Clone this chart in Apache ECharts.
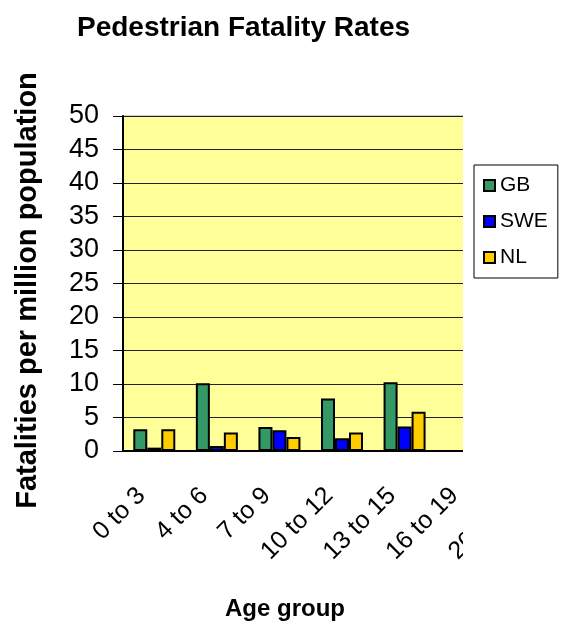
<!DOCTYPE html>
<html>
<head>
<meta charset="utf-8">
<title>Pedestrian Fatality Rates</title>
<script src="https://cdn.jsdelivr.net/npm/echarts@6/dist/echarts.min.js"></script>
<style>
    html, body { margin: 0; padding: 0; background: #fff; }
    #chart { width: 561px; height: 628px; }
</style>
</head>
<body>
<div id="chart"></div>
<script>
// age groups (the last two are cut off in the picture)
var ageGroups = ['0 to 3', '4 to 6', '7 to 9', '10 to 12', '13 to 15', '16 to 19', '20 to 29'];
var gbRates = [3.25, 10.1, 3.6, 7.85, 10.25, null, null];
var sweRates = [0.5, 0.75, 3.1, 1.9, 3.65, null, null];
var nlRates = [3.25, 2.75, 2.1, 2.75, 5.85, null, null];
var yTicks = [0, 5, 10, 15, 20, 25, 30, 35, 40, 45, 50];

var font = "'Liberation Sans', Arial, sans-serif";
var chart = echarts.init(document.getElementById('chart'));

var barSeries = function(name, color, data) {
    return {
        name: name,
        type: 'bar',
        data: data,
        barWidth: 14,
        barGap: '0%',
        itemStyle: {
            color: color,
            borderColor: '#000',
            borderWidth: 2
        }
    };
};

var option = {
    animation: false,
    textStyle: { fontFamily: font },
    title: [{
        text: 'Pedestrian Fatality Rates',
        left: 72,
        top: 9,
        textStyle: { fontSize: 28, fontWeight: 'bold', color: '#000', fontFamily: font }
    }, {
        text: 'Age group',
        left: 220,
        top: 592,
        textStyle: { fontSize: 24, fontWeight: 'bold', color: '#000', fontFamily: font }
    }],
    legend: {
        orient: 'vertical',
        left: 474,
        top: 165,
        z: 200,
        data: ['GB', 'SWE', 'NL'],
        icon: 'rect',
        itemWidth: 11,
        itemHeight: 11,
        itemGap: 15,
        padding: [10, 10, 10, 9],
        borderColor: '#000',
        borderWidth: 1,
        backgroundColor: '#fff',
        textStyle: { fontSize: 21, color: '#000', fontFamily: font }
    },
    grid: {
        left: 123,
        top: 116,
        width: 463,
        height: 335,
        show: true,
        backgroundColor: '#FFFF99',
        borderColor: '#999',
        borderWidth: 1
    },
    xAxis: {
        type: 'category',
        data: ageGroups,
        axisLine: { lineStyle: { color: '#000', width: 2 } },
        axisTick: { length: 8, lineStyle: { color: '#000' } },
        axisLabel: {
            rotate: 45,
            margin: 28,
            interval: 0,
            fontSize: 25,
            padding: [0, 18, 0, 0],
            color: '#000',
            fontFamily: font
        }
    },
    yAxis: {
        type: 'value',
        min: yTicks[0],
        max: yTicks[yTicks.length - 1],
        interval: yTicks[1] - yTicks[0],
        name: 'Fatalities per million population',
        nameLocation: 'middle',
        nameGap: 81,
        nameTextStyle: {
            fontSize: 29,
            fontWeight: 'bold',
            color: '#000',
            padding: [0, 14, 0, 0],
            fontFamily: font
        },
        axisLine: { show: true, lineStyle: { color: '#000', width: 2 } },
        axisTick: { show: true, length: 10, lineStyle: { color: '#000' } },
        axisLabel: { margin: 24, fontSize: 27, color: '#000', fontFamily: font },
        splitLine: { lineStyle: { color: '#222', width: 1 } }
    },
    // the reference picture is cut off on the right side of the plot
    graphic: [{
        type: 'rect',
        z: 100,
        shape: { x: 463, y: 100, width: 98, height: 528 },
        style: { fill: '#fff' }
    }],
    series: [
        barSeries('GB', '#339966', gbRates),
        barSeries('SWE', '#0000FF', sweRates),
        barSeries('NL', '#FFCC00', nlRates)
    ]
};

chart.setOption(option);
</script>
</body>
</html>
